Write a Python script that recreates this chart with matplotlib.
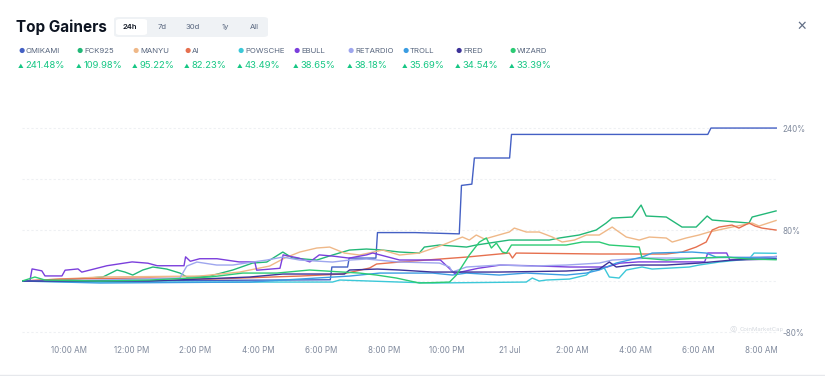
import numpy as np
import matplotlib.pyplot as plt
from matplotlib.patches import FancyBboxPatch
from matplotlib.lines import Line2D

plt.rcParams['font.family'] = ['Inter', 'DejaVu Sans']

# ---- data: hours since 08:30 (20 Jul) and % change ----
names = ["OMIKAMI", "FCK925", "MANYU", "AI", "POWSCHE",
         "EBULL", "RETARDIO", "TROLL", "FRED", "WIZARD"]
gains = ["241.48%", "109.98%", "95.22%", "82.23%", "43.49%",
         "38.65%", "38.18%", "35.69%", "34.54%", "33.39%"]
colors = ["#4460c4", "#23b878", "#efb888", "#e6704f", "#3cc8d8",
          "#7b3fdc", "#9ea6ee", "#3b9de2", "#3d3399", "#2ccb74"]

omikami_t = [0, 3, 6, 9.8, 9.85, 10.35, 10.4, 11.25, 11.3, 12.5, 13.9, 13.97, 14.3, 14.38, 15.5, 15.56, 21.8, 21.9, 24]
omikami_v = [0, 0, 1, 2, 22, 22, 36, 36, 76, 76, 74, 150, 152, 193, 193, 230, 230, 240, 240]

fck_t = [0, 1.21, 2.57, 3.02, 3.27, 3.52, 3.84, 4.16, 4.6, 5.02, 5.24, 5.97, 6.7, 7.33, 7.78, 8.29, 8.6, 9.37, 9.87,
         10.41, 10.95, 11.46, 12, 12.63, 12.79, 13.27, 14.13, 14.44, 15.49, 16.76, 17.08, 17.71, 18.25, 18.57,
         18.76, 19.4, 19.68, 19.84, 20.48, 20.98, 21.43, 21.78, 21.94, 23.11, 23.21, 23.97]
fck_v = [0, 1.6, 6.3, 17.3, 14.1, 9.4, 17.3, 22, 18.8, 12.5, 6.3, 7.8, 17.3, 28.2, 29.8, 45.5, 36.1, 32.9, 40.8,
         48.6, 50.2, 48.6, 45.5, 43.9, 53.3, 56.5, 53.3, 56.5, 64.3, 64.3, 67.5, 72.2, 80, 91,
         98.8, 100.4, 119.2, 102, 100.4, 84.7, 84.7, 102, 95.7, 91, 100.4, 110]

manyu_t = [0, 2.48, 5.65, 6.92, 7.87, 8.35, 8.83, 9.37, 9.78, 10.25, 10.73, 11.46, 12, 12.63, 13.37, 14, 14.22,
           14.44, 14.7, 15.49, 15.65, 16.03, 16.44, 16.86, 17.17, 17.56, 17.94, 18.35, 18.76, 18.89, 19.21,
           19.62, 19.94, 20.48, 20.67, 21.11, 21.52, 21.84, 22.57, 23.21, 23.43, 23.97]
manyu_v = [0, 6.3, 7.8, 14.1, 23.5, 36.1, 45.5, 51.8, 53.3, 43.9, 40.8, 48.6, 40.8, 43.9, 56.5, 69, 64.3,
           72.2, 65.9, 76.9, 83.1, 76.9, 76.9, 69, 61.2, 64.3, 72.2, 72.2, 84.7, 80, 69,
           64.3, 69, 67.5, 61.2, 67.5, 72.2, 76.9, 84.7, 91, 86.3, 95]

ai_t = [0, 1.21, 4.06, 5.97, 8.83, 10.19, 11.05, 11.27, 12, 14.13, 15.49, 15.59, 15.71, 18.35, 20.48, 20.98,
        21.43, 21.75, 21.94, 22.16, 22.57, 22.79, 23.11, 23.3, 23.52, 23.97]
ai_v = [0, 3.1, 4.7, 3.1, 7.8, 11, 20.4, 26.7, 29.8, 37.6, 43.9, 36.1, 43.9, 42.4, 42.4, 45.5,
        53.3, 61.2, 80, 84.7, 87.8, 83.1, 91, 86.3, 83.1, 80]

pow_t = [0, 2.48, 9.87, 10.1, 12, 13.05, 16.03, 16.22, 16.44, 16.67, 17.4, 17.94, 18.13, 18.51, 18.67, 18.98,
         19.21, 19.71, 20.03, 21.21, 21.52, 22.16, 23.11, 23.27, 23.97]
pow_v = [0, -1.6, -1.6, 1.6, -1.6, -3.1, -1.6, 4.7, 0, 1.6, 3.1, 9.4, 17.3, 20.4, 6.3, 4.7,
         17.3, 22, 18.8, 22, 25.1, 29.8, 34.5, 43.9, 43.5]

ebull_t = [0, 0.25, 0.32, 0.63, 0.73, 1.27, 1.37, 1.78, 1.9, 2.7, 3.1, 3.5, 4.0, 4.3, 5.15, 5.2, 5.35, 5.65,
           6.2, 6.9, 7.4, 7.46, 8.2, 8.3, 8.8, 9.15, 9.45, 9.9, 10.4, 10.95, 11.15, 12.0, 13.3, 13.75, 14.5,
           15.2, 16.2, 17.4, 18.6, 19.0, 19.6, 21.7, 21.8, 22.4, 22.5, 24.0]
ebull_v = [0, 0, 19, 16, 8, 8, 17, 19, 14, 24, 27, 30, 28, 24, 24, 38, 31, 35,
           35, 30, 30, 17, 20, 41, 36, 30, 41, 39, 36, 41, 44, 33, 33, 12, 20,
           25, 24, 22, 22, 28, 30, 30, 44, 44, 33, 38.6]

ret_t = [0, 2.48, 5.02, 5.24, 5.56, 6.19, 6.7, 7.33, 7.78, 8.29, 8.83, 9.87, 10.41, 10.95, 12, 13.27, 13.59,
         13.68, 14.13, 15.17, 16.22, 17.3, 18.35, 18.76, 19.94, 21.52, 23.97]
ret_v = [0, 1.6, 4.7, 23.5, 29.8, 25.1, 25.1, 29.8, 32.9, 37.6, 32.9, 29.8, 32.9, 34.5, 29.8, 28.2, 22,
         14.1, 22, 25.1, 23.5, 25.1, 28.2, 32.9, 36.1, 36.1, 38.2]

troll_t = [0, 2.48, 7.24, 8.83, 10.41, 11.37, 13.05, 13.68, 14.13, 15.17, 16.03, 17.3, 17.94, 18.35, 18.89,
           19.71, 20.03, 21.3, 21.75, 22.06, 23.97]
troll_v = [0, -3.1, -1.6, 3.1, 7.8, 12.5, 12.5, 9.4, 12.5, 9.4, 12.5, 9.4, 12.5, 17.3, 28.2,
           37.6, 43.9, 45.5, 43.9, 37.6, 35.7]

fred_t = [0, 4.06, 5.65, 7.24, 8.29, 10.25, 10.41, 11.3, 12, 13.05, 15.17, 17.3, 18.35, 18.67, 18.89, 19.4,
          20.48, 21.52, 22.57, 23.97]
fred_v = [0, 0, 3.1, 6.3, 11, 11, 17.3, 18.8, 17.3, 14.1, 14.1, 15.7, 18.8, 29.8, 22, 25.1,
          25.1, 28.2, 32.9, 34.5]

wiz_t = [0, 0.41, 0.73, 2.48, 4.06, 5.97, 7.02, 8.1, 9.14, 10.19, 10.73, 11.27, 11.9, 12.63, 13.59, 13.81, 14.22,
         14.54, 14.76, 14.92, 15.08, 15.27, 15.4, 15.56, 16.22, 17.3, 17.81, 18.35, 18.67, 19.62, 19.71, 20.48,
         21.52, 22.38, 23.11, 23.97]
wiz_v = [0, 6.3, 1.6, 0, 1.6, 6.3, 12.5, 12.5, 17.3, 14.1, 12.5, 9.4, 4.7, -3.1, -1.6, 9.4, 40.8,
         61.2, 67.5, 51.8, 59.6, 45.5, 43.9, 56.5, 56.5, 56.5, 61.2, 61.2, 56.5, 53.3, 36.1, 32.9,
         36.1, 37.6, 34.5, 33.4]

series_t = [omikami_t, fck_t, manyu_t, ai_t, pow_t, ebull_t, ret_t, troll_t, fred_t, wiz_t]
series_v = [omikami_v, fck_v, manyu_v, ai_v, pow_v, ebull_v, ret_v, troll_v, fred_v, wiz_v]

xtick_pos = [1.5, 3.5, 5.5, 7.5, 9.5, 11.5, 13.5, 15.5, 17.5, 19.5, 21.5, 23.5]
xtick_lab = ["10:00 AM", "12:00 PM", "2:00 PM", "4:00 PM", "6:00 PM", "8:00 PM",
             "10:00 PM", "21 Jul", "2:00 AM", "4:00 AM", "6:00 AM", "8:00 AM"]
ytick_pos = [240, 80, -80]
ytick_lab = ["240%", "80%", "-80%"]
grid_pos = [240, 160, 80, 0, -80]

W, H = 825, 376
fig = plt.figure(figsize=(W / 100, H / 100), dpi=100)
fig.patch.set_facecolor("white")


def fx(x):
    return x / W


def fy(y):
    return 1 - y / H


# header
fig.text(fx(16), fy(27), "Top Gainers", fontsize=11, fontweight="bold", color="#0d1421", va="center")
fig.patches.append(FancyBboxPatch((fx(114), fy(37)), fx(154), 20 / H, boxstyle="round,pad=0,rounding_size=0.006",
                                  transform=fig.transFigure, fc="#eff2f5", ec="none"))
fig.patches.append(FancyBboxPatch((fx(116), fy(35)), fx(31), 16 / H, boxstyle="round,pad=0,rounding_size=0.005",
                                  transform=fig.transFigure, fc="white", ec="none"))
for lab, xx in zip(["24h", "7d", "30d", "1y", "All"], [130, 162, 193, 225, 254]):
    fig.text(fx(xx), fy(27), lab, fontsize=5.5, ha="center", va="center",
             color="#0d1421" if lab == "24h" else "#58667e", fontweight="semibold" if lab == "24h" else "normal")
fig.text(fx(802), fy(27), "\u2715", fontsize=9, ha="center", va="center", color="#616e85")

# legend
leg_x = [18, 76, 132, 184, 237, 293, 347, 402, 455, 509]
for nm, g, c, xx in zip(names, gains, colors, leg_x):
    fig.text(fx(xx), fy(51), "\u25cf", fontsize=5, color=c, va="center")
    fig.text(fx(xx + 8), fy(51), nm, fontsize=5.6, color="#58667e", va="center")
    fig.text(fx(xx), fy(66), "\u25b2", fontsize=4, color="#16c784", va="center")
    fig.text(fx(xx + 7.5), fy(66), g, fontsize=6.8, color="#16c784", va="center")

# chart
ax = fig.add_axes([fx(22), 36 / H, 755 / W, 240 / H])
for gp in grid_pos:
    ax.axhline(gp, color="#eef0f3", lw=0.8, ls=(0, (2, 2)), zorder=0)
for t, v, c in zip(series_t, series_v, colors):
    ax.plot(t, v, color=c, lw=1.0, solid_joinstyle="round")

ax.set_xlim(0, 24)
ax.set_ylim(-92.5, 284)
for s in ax.spines.values():
    s.set_visible(False)
ax.set_xticks(xtick_pos)
ax.set_xticklabels(xtick_lab)
ax.yaxis.tick_right()
ax.set_yticks(ytick_pos)
ax.set_yticklabels(ytick_lab)
ax.tick_params(axis="x", length=0, pad=4, labelsize=5.8, labelcolor="#808a9d")
ax.tick_params(axis="y", length=0, pad=4, labelsize=5.8, labelcolor="#808a9d")

# watermark
fig.text(fx(733), fy(329), "\u25ce", fontsize=6, color="#d5d9df", ha="center", va="center")
fig.text(fx(740), fy(329), "CoinMarketCap", fontsize=4.3, color="#d5d9df", va="center")

fig.lines.append(Line2D([0, 1], [fy(374.5), fy(374.5)], transform=fig.transFigure, color="#e6e8ec", lw=1))

fig.savefig("out.png", dpi=100)
